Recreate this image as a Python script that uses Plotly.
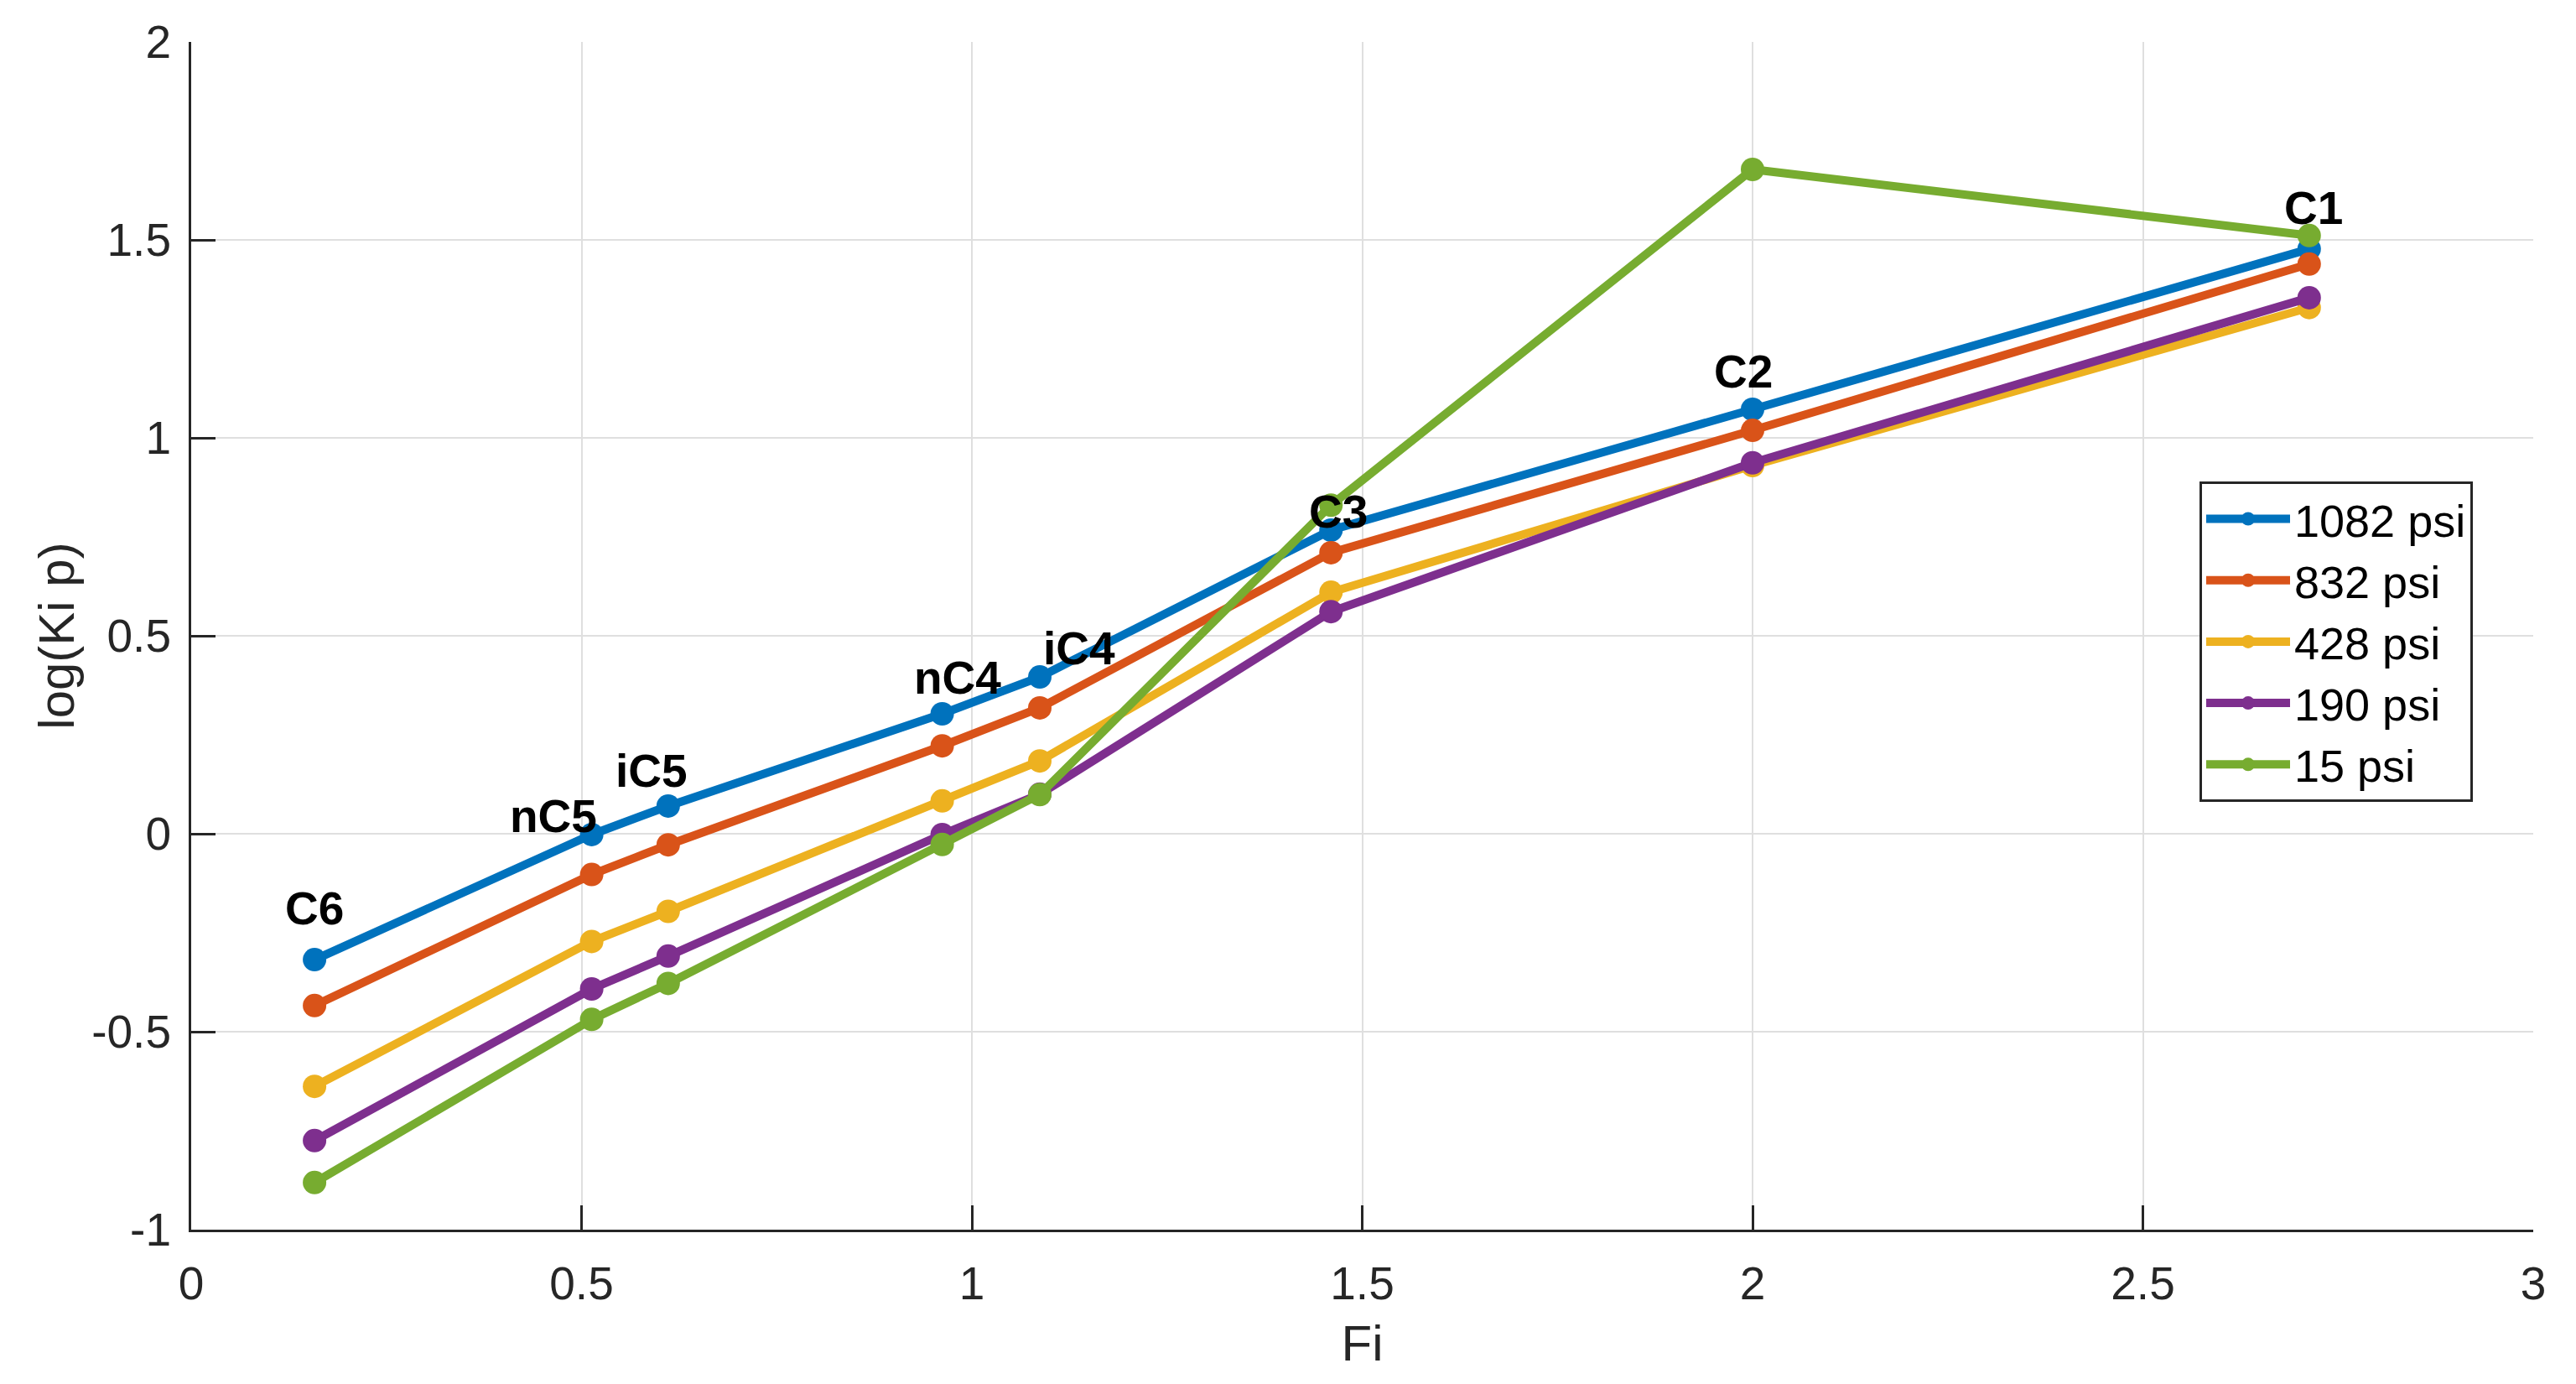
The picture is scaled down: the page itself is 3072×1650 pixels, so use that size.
import plotly.graph_objects as go

# Components and their Fi values
components = ["C6", "nC5", "iC5", "nC4", "iC4", "C3", "C2", "C1"]
fi = [0.158, 0.513, 0.611, 0.962, 1.087, 1.460, 2.000, 2.713]

# log(Ki p) for each pressure
series_names = ["1082 psi", "832 psi", "428 psi", "190 psi", "15 psi"]
y_1082 = [-0.318, -0.002, 0.070, 0.303, 0.396, 0.767, 1.072, 1.477]
y_832 = [-0.434, -0.103, -0.028, 0.222, 0.318, 0.710, 1.019, 1.439]
y_428 = [-0.638, -0.272, -0.196, 0.083, 0.184, 0.610, 0.930, 1.329]
y_190 = [-0.775, -0.392, -0.309, -0.002, 0.100, 0.561, 0.937, 1.354]
y_15 = [-0.881, -0.469, -0.378, -0.027, 0.099, 0.830, 1.678, 1.511]
series_values = [y_1082, y_832, y_428, y_190, y_15]
colors = ["#0072BD", "#D95319", "#EDB120", "#7E2F8E", "#77AC30"]

# Label positions (data coordinates)
label_x = [0.158, 0.464, 0.590, 0.982, 1.137, 1.469, 1.988, 2.719]
label_y = [-0.189, 0.044, 0.159, 0.394, 0.468, 0.814, 1.167, 1.580]

x_ticks = [0, 0.5, 1, 1.5, 2, 2.5, 3]
x_ticktext = ["0", "0.5", "1", "1.5", "2", "2.5", "3"]
y_ticks = [-1, -0.5, 0, 0.5, 1, 1.5, 2]
y_ticktext = ["-1", "-0.5", "0", "0.5", "1", "1.5", "2"]

FONT = "Liberation Sans, Arial, Helvetica, sans-serif"
AXC = "#262626"
GRID = "#dfdfdf"

fig = go.Figure()
for name, vals, col in zip(series_names, series_values, colors):
    fig.add_trace(go.Scatter(
        x=fi, y=vals, mode="lines+markers", name=name,
        line=dict(color=col, width=10),
        marker=dict(color=col, size=28, line=dict(width=0)),
    ))

for lab, lx, ly in zip(components, label_x, label_y):
    fig.add_annotation(x=lx, y=ly, text="<b>" + lab + "</b>", showarrow=False,
                       xanchor="center", yanchor="middle",
                       font=dict(family=FONT, size=55, color="black"))

# page body has an 8px margin, so the figure is drawn 8px smaller and offset
fig.update_layout(
    width=3064, height=1642,
    margin=dict(l=220, r=51, t=42, b=184),
    paper_bgcolor="white", plot_bgcolor="white",
    font=dict(family=FONT, size=55, color=AXC),
    showlegend=True,
    legend=dict(
        x=0.8575, y=0.630, xanchor="left", yanchor="top",
        bgcolor="white", bordercolor=AXC, borderwidth=3,
        font=dict(family=FONT, size=54, color="black"),
        itemwidth=100, tracegroupgap=0,
    ),
)
fig.update_xaxes(
    range=[0, 3], tickvals=x_ticks, ticktext=x_ticktext, automargin=False,
    showline=True, linecolor=AXC, linewidth=3, mirror=False,
    ticks="inside", ticklen=29, tickwidth=3, tickcolor=AXC,
    showgrid=True, gridcolor=GRID, gridwidth=2, zeroline=False,
    tickfont=dict(family=FONT, size=55, color=AXC),
    ticklabelstandoff=14,
    title=dict(text="Fi", font=dict(family=FONT, size=60, color=AXC), standoff=20),
)
fig.update_yaxes(
    range=[-1, 2], tickvals=y_ticks, ticktext=y_ticktext, automargin=False,
    showline=True, linecolor=AXC, linewidth=3, mirror=False,
    ticks="inside", ticklen=29, tickwidth=3, tickcolor=AXC,
    showgrid=True, gridcolor=GRID, gridwidth=2, zeroline=False,
    tickfont=dict(family=FONT, size=55, color=AXC),
    ticklabelstandoff=10,
    title=dict(text="log(Ki p)", font=dict(family=FONT, size=60, color=AXC), standoff=2),
)

fig.write_html("out.html")
